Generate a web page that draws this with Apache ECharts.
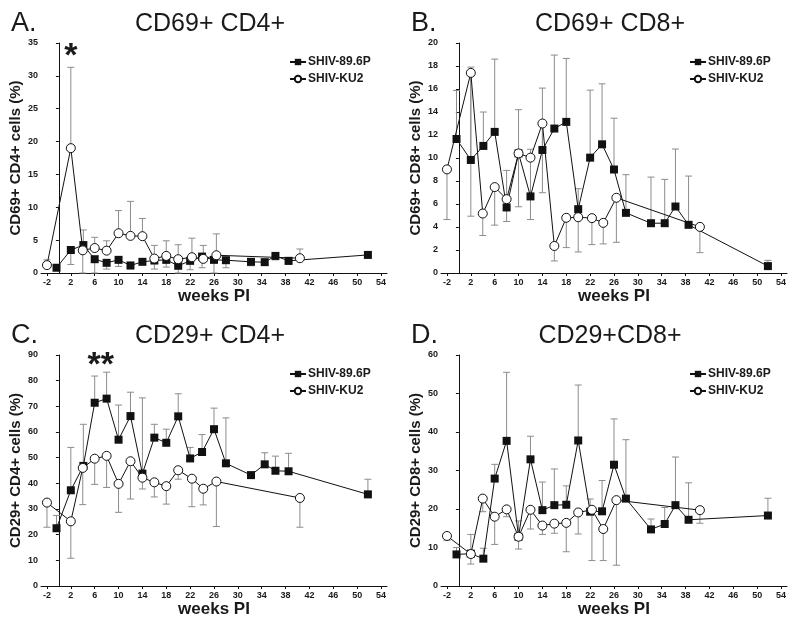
<!DOCTYPE html>
<html><head><meta charset="utf-8">
<script src="https://cdn.jsdelivr.net/npm/echarts@6/dist/echarts.min.js"></script>
<style>html,body{margin:0;padding:0;background:#fff}#c{width:800px;height:624px}</style>
</head><body><div id="c"></div>
<script>
// ---- data ----
const weeksP = [-0.4, 2, 4.1, 6, 8, 10, 12, 14, 16, 18, 20, 22, 24, 26, 28, 32.2, 34.5, 36.3, 38.5, 51.8];
const weeksK = [-2, 2, 4, 6, 8, 10, 12, 14, 16, 18, 20, 22.3, 24.2, 26.4, 40.4];
const xTicks = [-2, 2, 6, 10, 14, 18, 22, 26, 30, 34, 38, 42, 46, 50, 54];
const seriesNames = ['SHIV-89.6P', 'SHIV-KU2'];
const panelLetters = ['A.', 'B.', 'C.', 'D.'];
const panelTitles = ['CD69+ CD4+', 'CD69+ CD8+', 'CD29+ CD4+', 'CD29+CD8+'];
const yNames = ['CD69+ CD4+ cells (%)', 'CD69+ CD8+ cells (%)', 'CD29+ CD4+ cells (%)', 'CD29+ CD8+ cells (%)'];
const yMax = [35, 20, 90, 60];
const yStep = [5, 2, 10, 10];

// Panel A: CD69+ CD4+
const aP = [0.8, 3.5, 4.25, 2.1, 1.55, 2.0, 1.15, 1.7, 1.9, 2.0, 1.1, 1.85, 2.5, 2.0, 1.95, 1.7, 1.65, 2.6, 1.85, 2.75];
const aK = [1.2, 19.0, 3.45, 3.8, 3.4, 6.05, 5.65, 5.6, 2.2, 2.6, 2.1, 2.4, 2.15, 2.7, 2.25];
const aPerr = [null, 1.3, 6.55, 0, 0.6, 1.0, 0.6, 1.3, 0.6, 0.9, 0, 0.5, 0.8, 0, 0.8, 1.1, 1.2, 2.0, 1.3, null];
const aKerr = [2.0, 31.3, 0, 5.43, 4.9, 9.5, 10.9, 8.3, 4.2, 4.9, 4.3, 5.3, 4.2, 5.95, 3.65];
// Panel B: CD69+ CD8+
const bP = [11.65, 9.83, 11.05, 12.27, 5.7, 10.4, 6.66, 10.7, 12.56, 13.14, 5.55, 10.03, 11.19, 9.0, 5.23, 4.33, 4.33, 5.78, 4.19, 0.6];
const bK = [9.01, 17.4, 5.17, 7.47, 6.42, 10.4, 10.03, 13.0, 2.35, 4.8, 4.85, 4.77, 4.36, 6.54, 4.01];
const bPerr = [15.87, 17.9, 14.0, 18.6, 8.92, 14.2, 10.76, 16.08, 18.95, 18.66, 7.33, 15.9, 16.45, 13.46, 8.55, 8.34, 8.14, 10.78, 8.43, 1.1];
const bKerr = [4.65, 4.94, 3.26, 4.16, 4.48, 5.76, 4.65, 6.98, 1.05, 2.21, 1.83, 2.47, 2.53, 2.67, 1.77];
// Panel C: CD29+ CD4+
const cP = [22.5, 37.3, 46.8, 71.4, 73.0, 57.0, 66.2, 43.8, 57.8, 55.8, 66.1, 49.7, 52.2, 61.1, 47.8, 43.2, 47.4, 44.9, 44.7, 35.7];
const cK = [32.5, 25.2, 46.0, 49.6, 50.7, 39.8, 48.6, 42.2, 40.4, 38.9, 45.1, 41.8, 37.9, 40.7, 34.3];
const cPerr = [27.5, 54.0, 63.0, 81.8, 83.3, 70.5, 75.5, 73.3, 63.0, 61.1, 74.9, 54.0, 59.0, 69.3, 65.5, null, 51.9, 50.6, 51.7, 41.6];
const cKerr = [22.9, 10.8, 31.7, 39.6, 38.4, 28.7, 33.9, 37.8, 34.7, 31.9, 41.6, 30.9, 31.6, 23.2, 22.9];
// Panel D: CD29+ CD8+
const dP = [8.2, 8.4, 7.1, 27.9, 37.7, 12.8, 32.9, 19.7, 21.0, 21.1, 37.8, 19.3, 19.4, 31.5, 22.7, 14.7, 16.1, 21.0, 17.2, 18.3];
const dK = [13.0, 8.3, 22.7, 18.0, 19.9, 12.8, 19.8, 15.7, 16.2, 16.4, 19.1, 19.8, 14.8, 22.3, 19.7];
const dPerr = [10.0, 13.4, 9.8, 31.6, 55.5, 16.9, 38.9, 27.0, 30.4, 26.0, 52.2, 22.6, 27.4, 43.4, 38.0, 17.4, 20.4, 33.5, 26.8, 22.8];
const dKerr = [11.9, 5.7, 19.3, 10.8, 18.0, 9.6, 14.8, 13.4, 13.7, 8.9, 13.5, 6.6, 6.6, 5.4, 16.3];
// significance marks: [panel, week, value, text]
const sigMarks = [[0, 2, 33.0, '*'], [2, 7, 86.0, '**']];

const panelsP = [aP, bP, cP, dP];
const panelsK = [aK, bK, cK, dK];
const panelsPerr = [aPerr, bPerr, cPerr, dPerr];
const panelsKerr = [aKerr, bKerr, cKerr, dKerr];

// ---- layout ----
const gridPos = [
  {left: 41, top: 43, width: 346, height: 230},
  {left: 441, top: 43, width: 346, height: 230},
  {left: 41, top: 355, width: 346, height: 231},
  {left: 441, top: 355, width: 346, height: 231}
];
const FONT = 'Liberation Sans, Arial, sans-serif';
const TXT = '#1a1a1a';

function zip(xs, ys) { return xs.map((x, i) => [x, ys[i]]); }
function errData(xs, ys, ends) {
  const out = [];
  xs.forEach((x, i) => { if (ends[i] !== null && ends[i] !== undefined) out.push([x, ys[i], ends[i]]); });
  return out;
}
function errRender(params, api) {
  const p0 = api.coord([api.value(0), api.value(1)]);
  const p1 = api.coord([api.value(0), api.value(2)]);
  const st = {stroke: '#8c8c8c', lineWidth: 1};
  return {type: 'group', children: [
    {type: 'line', shape: {x1: p0[0], y1: p0[1], x2: p1[0], y2: p1[1]}, style: st},
    {type: 'line', shape: {x1: p1[0] - 3.5, y1: p1[1], x2: p1[0] + 3.5, y2: p1[1]}, style: st}
  ]};
}

const grid = [], xAxis = [], yAxis = [], series = [], title = [], legend = [];
for (let i = 0; i < 4; i++) {
  const g = gridPos[i];
  grid.push({left: g.left, top: g.top, width: g.width, height: g.height});
  xAxis.push({
    type: 'value', gridIndex: i, min: -3, max: 55,
    name: 'weeks PI', nameLocation: 'middle', nameGap: 14,
    nameTextStyle: {fontFamily: FONT, fontWeight: 'bold', fontSize: 17, color: TXT},
    axisLine: {show: true, onZero: false, lineStyle: {color: '#111', width: 1}},
    axisTick: {show: true, length: 3, customValues: xTicks, lineStyle: {color: '#111'}},
    axisLabel: {customValues: xTicks, fontFamily: FONT, fontSize: 9, fontWeight: 'bold', color: TXT, margin: 5},
    splitLine: {show: false}
  });
  yAxis.push({
    type: 'value', gridIndex: i, min: 0, max: yMax[i], interval: yStep[i],
    name: yNames[i], nameLocation: 'middle', nameGap: 18, nameRotate: 90,
    nameTextStyle: {fontFamily: FONT, fontWeight: 'bold', fontSize: 15, color: TXT},
    axisLine: {show: true, lineStyle: {color: '#111', width: 1}},
    axisTick: {show: true, length: 3, lineStyle: {color: '#111'}},
    axisLabel: {fontFamily: FONT, fontSize: 9, fontWeight: 'bold', color: TXT, margin: 3},
    splitLine: {show: false}
  });
  const ox = i % 2 === 0 ? 0 : 400, oy = i < 2 ? 0 : 312;
  title.push({text: panelLetters[i], left: ox + 6, top: oy + 5,
    textStyle: {fontFamily: FONT, fontSize: 27, fontWeight: 'normal', color: TXT}});
  title.push({text: panelTitles[i], left: ox + 205, top: oy + 7, textAlign: 'center',
    textStyle: {fontFamily: FONT, fontSize: 25, fontWeight: 'normal', color: TXT}});
  legend.push({
    data: seriesNames, orient: 'vertical', left: ox + 284, top: oy + 51,
    itemWidth: 16, itemHeight: 8, itemGap: 5, selectedMode: false,
    textStyle: {fontFamily: FONT, fontSize: 12, fontWeight: 'bold', color: TXT, padding: [0, 0, 0, -3]}
  });
  // error bars
  series.push({type: 'custom', name: 'errP' + i, xAxisIndex: i, yAxisIndex: i, z: 1,
    renderItem: errRender, data: errData(weeksP, panelsP[i], panelsPerr[i]), silent: true});
  series.push({type: 'custom', name: 'errK' + i, xAxisIndex: i, yAxisIndex: i, z: 1,
    renderItem: errRender, data: errData(weeksK, panelsK[i], panelsKerr[i]), silent: true});
  const marks = sigMarks.filter(m => m[0] === i).map(m => ({
    coord: [m[1], m[2]], symbol: 'circle', symbolSize: 2,
    itemStyle: {color: 'rgba(0,0,0,0)'},
    label: {show: true, position: 'inside', formatter: m[3], fontFamily: FONT, fontSize: 34, fontWeight: 'bold', color: TXT}
  }));
  series.push({type: 'line', name: seriesNames[0], xAxisIndex: i, yAxisIndex: i, z: 3,
    data: zip(weeksP, panelsP[i]), symbol: 'rect', symbolSize: 8, showAllSymbol: true,
    lineStyle: {color: '#111', width: 1}, itemStyle: {color: '#111', borderWidth: 0},
    emphasis: {disabled: true}, animation: false,
    markPoint: marks.length ? {data: marks, silent: true, animation: false} : undefined});
  series.push({type: 'line', name: seriesNames[1], xAxisIndex: i, yAxisIndex: i, z: 4,
    data: zip(weeksK, panelsK[i]), symbol: 'circle', symbolSize: 9, showAllSymbol: true,
    lineStyle: {color: '#111', width: 1}, itemStyle: {color: '#fff', borderColor: '#111', borderWidth: 1},
    emphasis: {disabled: true}, animation: false});
}

const chart = echarts.init(document.getElementById('c'), null, {renderer: 'canvas'});
chart.setOption({animation: false, backgroundColor: '#fff', title, legend, grid, xAxis, yAxis, series});
</script></body></html>
